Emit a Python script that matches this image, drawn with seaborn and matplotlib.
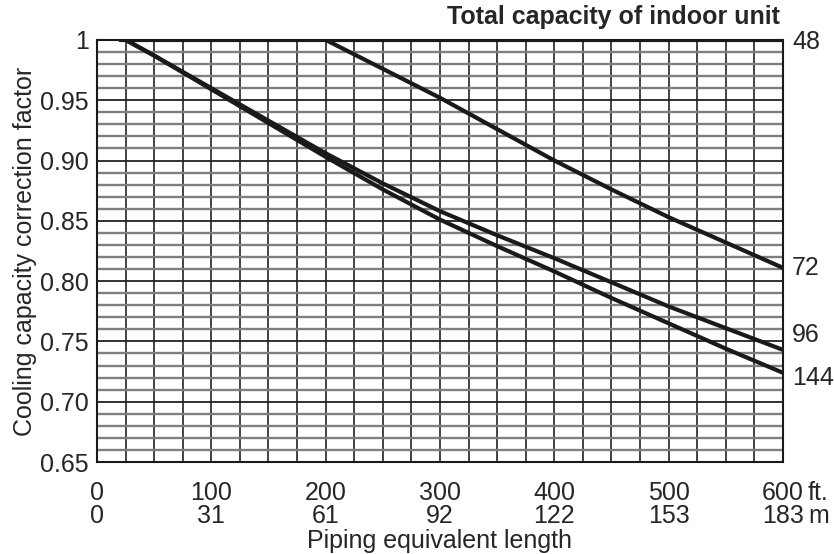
import numpy as np
import pandas as pd
import seaborn as sns
import matplotlib.pyplot as plt

# piping equivalent length (ft) and correction factors
ft_72 = [200, 250, 300, 350, 400, 450, 500, 550, 600]
cf_72 = [1.0, 0.976, 0.952, 0.926, 0.900, 0.876, 0.853, 0.832, 0.811]

ft_low = [25, 50, 100, 150, 200, 250, 300, 350, 400, 450, 500, 550, 600]
cf_96 = [1.0, 0.987, 0.960, 0.933, 0.906, 0.881, 0.858, 0.838, 0.819, 0.799, 0.779, 0.761, 0.743]
cf_144 = [1.0, 0.987, 0.959, 0.931, 0.903, 0.876, 0.851, 0.829, 0.808, 0.786, 0.765, 0.744, 0.724]

ft_48 = [20, 600]
cf_48 = [1.0, 1.0]

ft_ticks = [0, 100, 200, 300, 400, 500, 600]
m_ticks = [0, 31, 61, 92, 122, 153, 183]
y_ticks = [1.0, 0.95, 0.90, 0.85, 0.80, 0.75, 0.70, 0.65]
y_tick_labels = ["1", "0.95", "0.90", "0.85", "0.80", "0.75", "0.70", "0.65"]

# capacity labels on the right side, with the y where they sit
cap_labels = ["48", "72", "96", "144"]
cap_label_y = [0.998, 0.811, 0.755, 0.720]

df = pd.concat([
    pd.DataFrame({"ft": ft_48, "cf": cf_48, "cap": "48"}),
    pd.DataFrame({"ft": ft_72, "cf": cf_72, "cap": "72"}),
    pd.DataFrame({"ft": ft_low, "cf": cf_96, "cap": "96"}),
    pd.DataFrame({"ft": ft_low, "cf": cf_144, "cap": "144"}),
])

sns.set_style("white")
plt.rcParams["font.family"] = ["Liberation Sans", "DejaVu Sans"]
FS = 18

fig = plt.figure(figsize=(8.34, 5.54), dpi=100)
ax = fig.add_axes([0.1163, 0.166, 0.8225, 0.762])

# grid: verticals every 25 ft, horizontals every 0.01 (darker every 0.05)
for x in np.arange(25, 600, 25):
    ax.axvline(x, color="#222222", lw=1.2, zorder=1)
for y in np.arange(0.66, 1.0, 0.01):
    if abs(round(y * 100) % 5) == 0:
        ax.axhline(y, color="#222222", lw=1.3, zorder=1)
    else:
        ax.axhline(y, color="#7f7f7f", lw=1.7, zorder=1)

sns.lineplot(data=df, x="ft", y="cf", units="cap", estimator=None,
             color="#1a1a1a", lw=3.0, legend=False, ax=ax, zorder=3)

ax.set_xlim(0, 600)
ax.set_ylim(0.65, 1.0)
for s in ax.spines.values():
    s.set_color("#1a1a1a")
    s.set_linewidth(1.5)

ax.set_xticks(ft_ticks)
ax.set_xticklabels([f"{f}\n{m}" for f, m in zip(ft_ticks, m_ticks)],
                   fontsize=FS, linespacing=0.9)
ax.set_yticks(y_ticks)
ax.set_yticklabels(y_tick_labels, fontsize=FS)
ax.tick_params(axis="both", length=0)
ax.tick_params(axis="x", pad=14)
ax.tick_params(axis="y", pad=6)

ax.set_xlabel("Piping equivalent length", fontsize=FS, labelpad=1)
ax.set_ylabel("Cooling capacity correction factor", fontsize=FS, labelpad=2)

ax.annotate("ft.", xy=(600, 0.65), xytext=(25, -31), textcoords="offset pixels",
            fontsize=FS, va="center", ha="left", annotation_clip=False)
ax.annotate("m", xy=(600, 0.65), xytext=(25, -54), textcoords="offset pixels",
            fontsize=FS, va="center", ha="left", annotation_clip=False)

for lab, yv in zip(cap_labels, cap_label_y):
    ax.text(608, yv, lab, fontsize=FS, va="center", ha="left", clip_on=False)

ax.text(0.995, 1.055, "Total capacity of indoor unit", transform=ax.transAxes,
        fontsize=FS, fontweight="bold", ha="right", va="center")

fig.savefig("out.png", dpi=100)
